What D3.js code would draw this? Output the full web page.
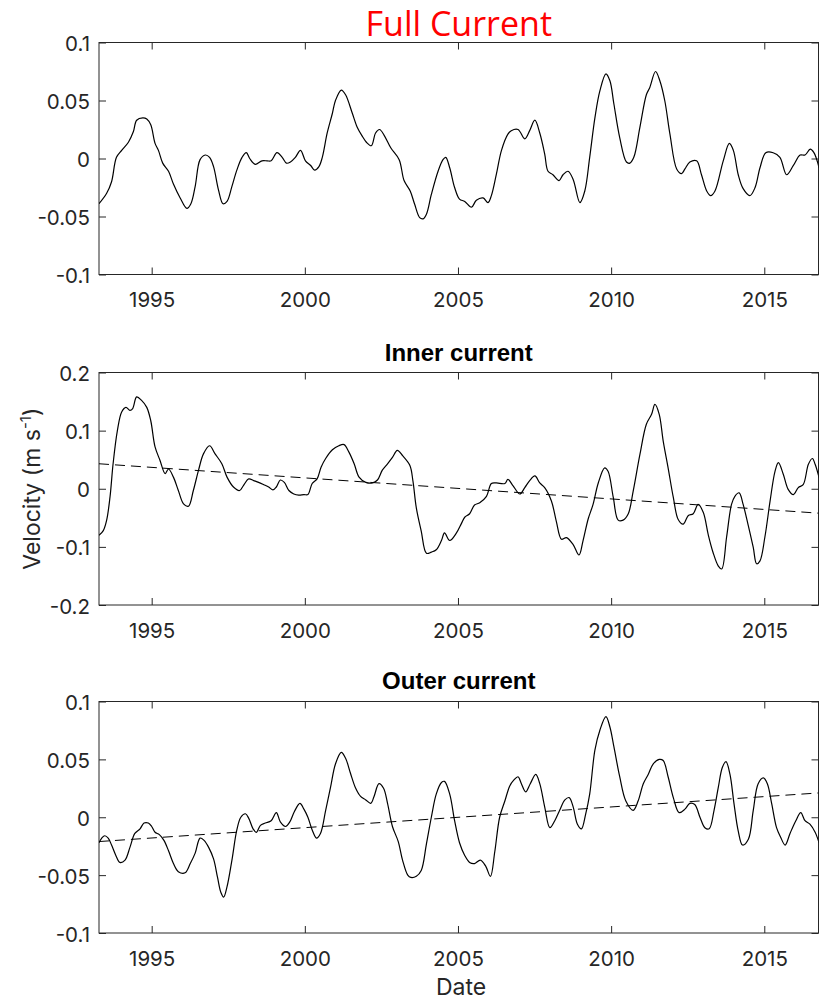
<!DOCTYPE html>
<html>
<head>
<meta charset="utf-8">
<script src="https://cdn.jsdelivr.net/npm/d3@7"></script>
<style>
  html, body { margin: 0; padding: 0; background: #fff; }
  svg { display: block; }
</style>
</head>
<body>
<svg id="chart" width="819" height="1000"></svg>
<script>
// ---------------- DATA ----------------
const xDomain = [1993.28, 2016.77];
const xTicks = [1995, 2000, 2005, 2010, 2015];

const yTicksSmall = [-0.1, -0.05, 0, 0.05, 0.1];
const yTickLabelsSmall = ["-0.1", "-0.05", "0", "0.05", "0.1"];
const yTicksInner = [-0.2, -0.1, 0, 0.1, 0.2];
const yTickLabelsInner = ["-0.2", "-0.1", "0", "0.1", "0.2"];

const panelTitles = ["Full Current", "Inner current", "Outer current"];

const fullDates = [1993.28,1993.53,1993.69,1993.85,1994.02,1994.24,1994.40,1994.51,1994.71,1994.84,1994.97,1995.11,1995.22,1995.36,1995.55,1995.71,1995.93,1996.15,1996.28,1996.42,1996.58,1996.75,1996.89,1997.02,1997.18,1997.33,1997.46,1997.62,1997.78,1997.95,1998.09,1998.20,1998.38,1998.60,1998.77,1998.90,1999.09,1999.26,1999.40,1999.53,1999.69,1999.86,2000.02,2000.19,2000.32,2000.46,2000.57,2000.73,2000.90,2001.00,2001.19,2001.33,2001.55,2001.71,2001.88,2002.01,2002.17,2002.31,2002.44,2002.59,2002.81,2003.08,2003.24,2003.44,2003.58,2003.75,2003.86,2003.97,2004.13,2004.35,2004.51,2004.60,2004.73,2004.89,2005.05,2005.22,2005.44,2005.60,2005.82,2005.98,2006.09,2006.25,2006.42,2006.63,2006.74,2006.96,2007.18,2007.34,2007.51,2007.67,2007.83,2007.94,2008.10,2008.30,2008.43,2008.59,2008.76,2008.98,2009.14,2009.30,2009.47,2009.63,2009.83,2009.96,2010.09,2010.28,2010.50,2010.61,2010.74,2010.94,2011.15,2011.26,2011.45,2011.59,2011.75,2011.92,2012.14,2012.30,2012.41,2012.57,2012.79,2012.95,2013.12,2013.25,2013.39,2013.66,2013.86,2013.99,2014.15,2014.31,2014.53,2014.70,2014.86,2015.05,2015.29,2015.51,2015.73,2015.95,2016.17,2016.33,2016.50,2016.62,2016.79];
const fullVel = [-0.039,-0.030,-0.020,0.001,0.007,0.014,0.023,0.033,0.035,0.034,0.029,0.013,0.007,-0.004,-0.011,-0.022,-0.034,-0.043,-0.039,-0.024,-0.001,0.003,0.001,-0.007,-0.027,-0.039,-0.037,-0.024,-0.010,0.001,0.005,0.000,-0.005,-0.002,-0.002,-0.002,0.005,0.001,-0.004,-0.003,0.001,0.007,-0.002,-0.006,-0.010,-0.007,0.001,0.022,0.039,0.050,0.059,0.055,0.039,0.027,0.019,0.014,0.011,0.022,0.025,0.020,0.009,-0.001,-0.019,-0.028,-0.039,-0.051,-0.052,-0.048,-0.031,-0.011,-0.001,0.001,-0.008,-0.025,-0.035,-0.037,-0.042,-0.036,-0.034,-0.038,-0.032,-0.014,0.007,0.021,0.024,0.025,0.017,0.024,0.033,0.022,0.004,-0.011,-0.014,-0.019,-0.014,-0.011,-0.018,-0.038,-0.028,0.001,0.035,0.058,0.073,0.067,0.047,0.018,-0.003,-0.004,0.001,0.027,0.055,0.061,0.075,0.067,0.050,0.021,-0.009,-0.013,-0.009,-0.003,-0.002,-0.014,-0.028,-0.032,-0.028,-0.002,0.013,0.007,-0.014,-0.026,-0.032,-0.025,-0.008,0.005,0.005,0.001,-0.014,-0.006,0.003,0.003,0.008,0.005,-0.008];

const innerDates = [1993.28,1993.42,1993.53,1993.64,1993.74,1993.88,1994.02,1994.16,1994.29,1994.38,1994.51,1994.67,1994.84,1994.97,1995.11,1995.27,1995.44,1995.55,1995.71,1995.87,1996.04,1996.20,1996.36,1996.53,1996.69,1996.89,1997.07,1997.29,1997.46,1997.67,1997.87,1998.00,1998.17,1998.33,1998.49,1998.66,1998.82,1998.96,1999.07,1999.20,1999.33,1999.48,1999.64,1999.80,1999.97,2000.10,2000.24,2000.40,2000.53,2000.68,2000.90,2001.11,2001.28,2001.44,2001.61,2001.77,2001.99,2002.21,2002.37,2002.53,2002.70,2002.86,2003.02,2003.19,2003.43,2003.53,2003.64,2003.80,2003.97,2004.13,2004.29,2004.46,2004.56,2004.73,2004.95,2005.11,2005.22,2005.38,2005.54,2005.71,2005.93,2006.09,2006.25,2006.53,2006.63,2006.80,2007.02,2007.18,2007.34,2007.51,2007.67,2007.83,2008.05,2008.21,2008.38,2008.54,2008.76,2008.95,2009.08,2009.25,2009.41,2009.58,2009.79,2009.90,2010.07,2010.23,2010.39,2010.56,2010.72,2010.94,2011.15,2011.32,2011.43,2011.57,2011.70,2011.86,2012.03,2012.19,2012.35,2012.52,2012.68,2012.84,2013.01,2013.17,2013.33,2013.50,2013.61,2013.77,2013.93,2014.04,2014.18,2014.31,2014.48,2014.64,2014.75,2014.86,2015.02,2015.19,2015.35,2015.46,2015.62,2015.78,2015.95,2016.11,2016.27,2016.44,2016.57,2016.66,2016.79];
const innerVel = [-0.080,-0.072,-0.054,-0.014,0.043,0.100,0.132,0.140,0.135,0.138,0.158,0.152,0.140,0.117,0.072,0.049,0.026,0.034,0.020,-0.003,-0.026,-0.030,-0.003,0.032,0.060,0.074,0.060,0.043,0.020,0.003,-0.003,0.006,0.017,0.014,0.011,0.007,0.003,-0.002,0.003,0.015,0.011,-0.003,-0.009,-0.011,-0.010,-0.010,0.009,0.017,0.037,0.052,0.067,0.074,0.076,0.063,0.043,0.020,0.011,0.010,0.015,0.032,0.043,0.054,0.066,0.057,0.040,0.013,-0.033,-0.073,-0.111,-0.109,-0.105,-0.089,-0.076,-0.089,-0.076,-0.060,-0.049,-0.043,-0.028,-0.024,-0.013,0.009,0.010,0.009,0.016,0.005,-0.009,0.002,0.014,0.022,0.010,0.002,-0.021,-0.056,-0.087,-0.084,-0.096,-0.114,-0.090,-0.052,-0.027,0.010,0.036,0.030,-0.015,-0.054,-0.054,-0.043,-0.004,0.059,0.111,0.128,0.145,0.128,0.082,0.036,-0.015,-0.053,-0.061,-0.046,-0.043,-0.027,-0.041,-0.079,-0.110,-0.133,-0.138,-0.083,-0.027,-0.013,-0.007,-0.027,-0.064,-0.101,-0.129,-0.124,-0.083,-0.021,0.030,0.045,0.025,-0.001,-0.010,0.002,0.007,0.042,0.052,0.042,0.019];
const innerTrend = [0.043, -0.042];

const outerDates = [1993.28,1993.37,1993.47,1993.58,1993.69,1993.83,1993.96,1994.13,1994.29,1994.45,1994.62,1994.75,1994.89,1995.00,1995.11,1995.25,1995.40,1995.55,1995.71,1995.87,1996.09,1996.26,1996.42,1996.58,1996.71,1996.86,1997.02,1997.15,1997.26,1997.35,1997.46,1997.62,1997.78,1997.91,1998.06,1998.17,1998.31,1998.42,1998.55,1998.71,1998.90,1999.07,1999.20,1999.37,1999.51,1999.66,1999.84,1999.97,2000.10,2000.24,2000.38,2000.51,2000.68,2000.84,2001.00,2001.19,2001.33,2001.49,2001.66,2001.82,2001.99,2002.15,2002.26,2002.42,2002.57,2002.70,2002.86,2003.05,2003.19,2003.36,2003.46,2003.64,2003.80,2003.97,2004.13,2004.29,2004.46,2004.56,2004.73,2004.89,2005.05,2005.22,2005.38,2005.54,2005.73,2005.90,2006.06,2006.20,2006.36,2006.53,2006.69,2006.82,2006.96,2007.07,2007.21,2007.36,2007.54,2007.67,2007.83,2008.00,2008.16,2008.32,2008.49,2008.63,2008.76,2008.90,2009.03,2009.17,2009.30,2009.47,2009.63,2009.83,2009.96,2010.09,2010.28,2010.48,2010.72,2010.88,2011.05,2011.21,2011.37,2011.57,2011.70,2011.86,2012.03,2012.22,2012.41,2012.57,2012.73,2012.90,2013.06,2013.20,2013.36,2013.50,2013.63,2013.75,2013.88,2014.01,2014.15,2014.29,2014.48,2014.64,2014.80,2014.97,2015.10,2015.24,2015.40,2015.53,2015.68,2015.84,2016.03,2016.19,2016.33,2016.49,2016.66,2016.79];
const outerVel = [-0.022,-0.018,-0.016,-0.018,-0.024,-0.033,-0.039,-0.037,-0.026,-0.014,-0.010,-0.005,-0.005,-0.008,-0.013,-0.015,-0.020,-0.029,-0.040,-0.047,-0.048,-0.040,-0.031,-0.018,-0.020,-0.026,-0.036,-0.052,-0.065,-0.069,-0.060,-0.037,-0.011,0.000,0.003,-0.001,-0.010,-0.013,-0.007,-0.005,-0.003,0.004,-0.004,-0.008,-0.004,0.005,0.012,0.007,0.000,-0.011,-0.018,-0.014,0.006,0.026,0.046,0.056,0.051,0.038,0.025,0.018,0.015,0.012,0.018,0.029,0.025,0.012,-0.008,-0.021,-0.037,-0.050,-0.052,-0.051,-0.046,-0.023,0.000,0.020,0.030,0.031,0.020,-0.003,-0.022,-0.033,-0.039,-0.040,-0.037,-0.042,-0.051,-0.030,0.000,0.014,0.027,0.032,0.035,0.029,0.022,0.029,0.037,0.029,0.009,-0.009,-0.003,0.006,0.015,0.017,0.009,-0.006,-0.010,0.003,0.020,0.058,0.075,0.087,0.078,0.061,0.035,0.014,0.006,0.014,0.029,0.037,0.046,0.050,0.049,0.035,0.017,0.004,0.007,0.012,0.011,0.000,-0.009,-0.010,0.006,0.026,0.043,0.048,0.037,0.012,-0.012,-0.024,-0.019,0.006,0.029,0.034,0.029,0.012,-0.009,-0.017,-0.024,-0.014,-0.003,0.004,-0.003,-0.006,-0.013,-0.022];
const outerTrend = [-0.021, 0.021];

// ---------------- LAYOUT ----------------
const svg = d3.select("#chart");
const axisColor = "#262626";
const tickFont = "Inter, 'Open Sans', sans-serif";
const tickSize = 20.5;
const labelSize = 23;
const left = 99, right = 818.5;

const x = d3.scaleLinear().domain(xDomain).range([left, right]);

const panels = [
  { top: 42.5, bottom: 274.5, domain: [-0.1, 0.1], ticks: yTicksSmall, labels: yTickLabelsSmall,
    dates: fullDates, vel: fullVel, trend: null, title: panelTitles[0], titleY: 36,
    titleStyle: { fill: "#ff0000", font: "'Open Sans', 'Noto Sans', sans-serif", size: 34, weight: 400 } },
  { top: 372.5, bottom: 605, domain: [-0.2, 0.2], ticks: yTicksInner, labels: yTickLabelsInner,
    dates: innerDates, vel: innerVel, trend: innerTrend, title: panelTitles[1], titleY: 360.5,
    titleStyle: { fill: "#000", font: "'Liberation Sans', Arial, sans-serif", size: 24, weight: 700 } },
  { top: 701.5, bottom: 933, domain: [-0.1, 0.1], ticks: yTicksSmall, labels: yTickLabelsSmall,
    dates: outerDates, vel: outerVel, trend: outerTrend, title: panelTitles[2], titleY: 689,
    titleStyle: { fill: "#000", font: "'Liberation Sans', Arial, sans-serif", size: 24, weight: 700 } }
];

panels.forEach((p, i) => {
  const y = d3.scaleLinear().domain(p.domain).range([p.bottom, p.top]);
  const g = svg.append("g");

  const clipId = "clip" + i;
  svg.append("defs").append("clipPath").attr("id", clipId)
    .append("rect").attr("x", left).attr("y", p.top)
    .attr("width", right - left).attr("height", p.bottom - p.top);

  const bottomAxis = d3.axisBottom(x).tickValues(xTicks).tickFormat(d3.format("d"))
    .tickSizeInner(-7).tickSizeOuter(0).tickPadding(18);
  const topAxis = d3.axisTop(x).tickValues(xTicks).tickFormat("")
    .tickSizeInner(-7).tickSizeOuter(0);
  const leftAxis = d3.axisLeft(y).tickValues(p.ticks).tickFormat((d, k) => p.labels[k])
    .tickSizeInner(-7).tickSizeOuter(0).tickPadding(9);
  const rightAxis = d3.axisRight(y).tickValues(p.ticks).tickFormat("")
    .tickSizeInner(-7).tickSizeOuter(0);

  const styleAxis = sel => {
    sel.select(".domain").remove();
    sel.selectAll("line").attr("stroke", axisColor).attr("stroke-width", 1);
    sel.selectAll("text").attr("fill", axisColor)
      .style("font-family", tickFont).style("font-size", tickSize + "px");
  };

  g.append("g").attr("transform", `translate(0,${p.bottom})`).call(bottomAxis).call(styleAxis);
  g.append("g").attr("transform", `translate(0,${p.top})`).call(topAxis).call(styleAxis);
  const la = g.append("g").attr("transform", `translate(${left},0)`).call(leftAxis).call(styleAxis);
  la.selectAll("text").attr("dy", 8);
  g.append("g").attr("transform", `translate(${right},0)`).call(rightAxis).call(styleAxis);

  g.append("rect").attr("x", left).attr("y", p.top)
    .attr("width", right - left).attr("height", p.bottom - p.top)
    .attr("fill", "none").attr("stroke", axisColor).attr("stroke-width", 1);

  const pts = p.dates.map((d, k) => [d, p.vel[k]]);
  const line = d3.line().x(d => x(d[0])).y(d => y(d[1])).curve(d3.curveCatmullRom.alpha(0.5));
  g.append("path").datum(pts).attr("clip-path", `url(#${clipId})`)
    .attr("d", line).attr("fill", "none").attr("stroke", "#000").attr("stroke-width", 1.2);

  if (p.trend) {
    const tpts = [[xDomain[0], p.trend[0]], [xDomain[1], p.trend[1]]];
    g.append("path").datum(tpts).attr("clip-path", `url(#${clipId})`)
      .attr("d", d3.line().x(d => x(d[0])).y(d => y(d[1])))
      .attr("fill", "none").attr("stroke", "#000").attr("stroke-width", 1)
      .attr("stroke-dasharray", "10,6");
  }

  svg.append("text").attr("x", (left + right) / 2).attr("y", p.titleY)
    .attr("text-anchor", "middle")
    .attr("fill", p.titleStyle.fill)
    .style("font-family", p.titleStyle.font)
    .style("font-size", p.titleStyle.size + "px")
    .style("font-weight", p.titleStyle.weight)
    .text(p.title);
});

const yl = svg.append("text")
  .attr("transform", `translate(40,${(panels[1].top + panels[1].bottom) / 2}) rotate(-90)`)
  .attr("text-anchor", "middle")
  .attr("fill", axisColor)
  .style("font-family", tickFont).style("font-size", labelSize + "px");
yl.append("tspan").text("Velocity (m s");
yl.append("tspan").attr("dy", -9).style("font-size", "15px").text("-1");
yl.append("tspan").attr("dy", 9).text(")");

svg.append("text").attr("x", 461).attr("y", 995)
  .attr("text-anchor", "middle").attr("fill", axisColor)
  .style("font-family", tickFont).style("font-size", labelSize + "px")
  .text("Date");
</script>
</body>
</html>
